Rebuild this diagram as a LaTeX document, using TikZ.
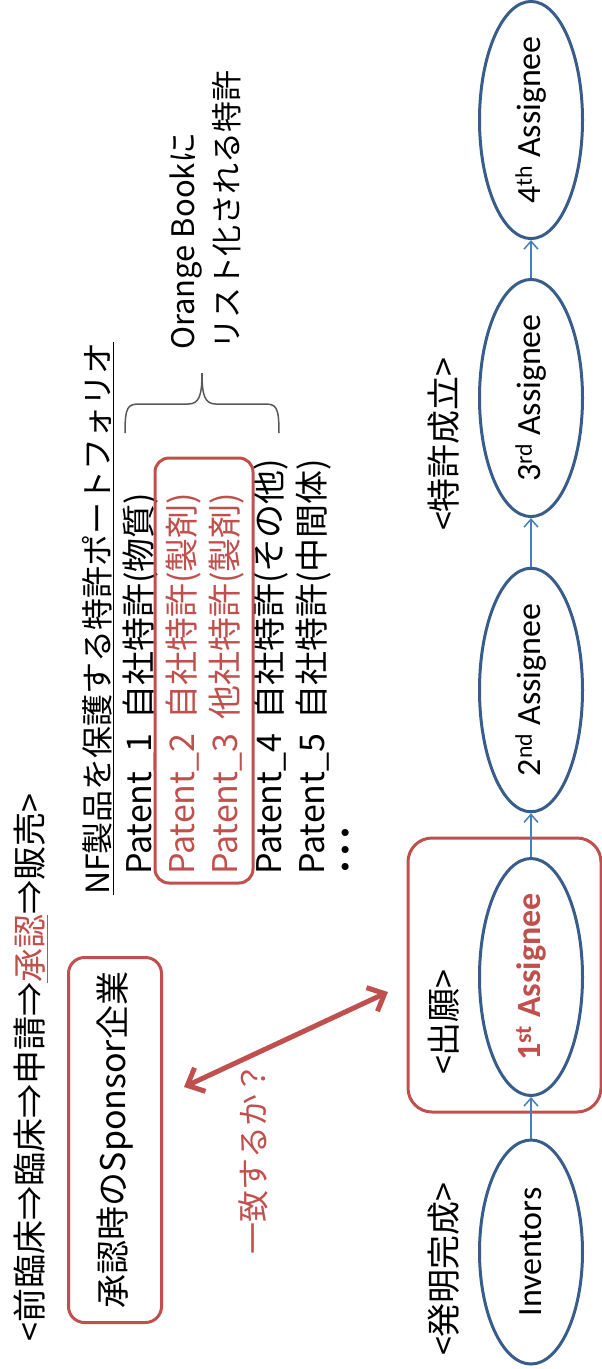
\documentclass[tikz,border=0pt]{standalone}
\usepackage{fontspec}
\setmainfont{Noto Sans CJK JP}
\newfontfamily\latinfont{Carlito}
\usetikzlibrary{arrows.meta,shapes.geometric}
\definecolor{pred}{HTML}{C0504D}
\definecolor{pblue}{HTML}{385D8A}
\definecolor{lblue}{HTML}{4A7EBB}
\definecolor{bracegray}{HTML}{595959}
\begin{document}
\begin{tikzpicture}[x=1pt,y=-1pt,
  rtext/.style={rotate=90, inner sep=0pt, font=\fontsize{34}{40}\selectfont},
  rbox/.style={draw=pred, line width=3pt, rounded corners=#1, inner sep=0pt},
  ell/.style={ellipse, draw=pblue, line width=3pt, rotate=90, minimum width=224pt,
    minimum height=103pt, inner sep=0pt, font=\latinfont\fontsize{34}{40}\selectfont},
  conn/.style={draw=lblue, line width=1.5pt, -{Straight Barb[length=8pt,width=14pt]}},
  dbl/.style={draw=pred, line width=5pt,
    {Straight Barb[length=14pt,width=26pt]}-{Straight Barb[length=14pt,width=26pt]}},
  bracestyle/.style={draw=bracegray, line width=1.5pt}]
\useasboundingbox (0,0) rectangle (602,1369);

% title
\node[rtext, anchor=west] (title) at (31,1342)
  {<前臨床⇒臨床⇒申請⇒\textcolor{pred}{\underline{承認}}⇒販売>};

% sponsor box
\node[rbox=16pt, rotate=90, minimum width=365pt, minimum height=93pt,
  font=\fontsize{34}{40}\selectfont] (spon) at (115,1140) {承認時のSponsor企業};

% heading
\node[rtext, anchor=west, font=\fontsize{32}{40}\selectfont] (nf) at (98,895)
  {\underline{NF製品を保護する特許ポートフォリオ}};

% patent rows
\node[rtext, anchor=west] (p1) at (141,875) {\makebox[155pt][l]{Patent\_1}自社特許(物質)};
\node[rtext, anchor=west, text=pred] (p2) at (184,875) {\makebox[155pt][l]{Patent\_2}自社特許(製剤)};
\node[rtext, anchor=west, text=pred] (p3) at (227,875) {\makebox[155pt][l]{Patent\_3}他社特許(製剤)};
\node[rtext, anchor=west] (p4) at (271,875) {\makebox[155pt][l]{Patent\_4}自社特許(その他)};
\node[rtext, anchor=west] (p5) at (314,875) {\makebox[155pt][l]{Patent\_5}自社特許(中間体)};
\node[rtext, anchor=west, font=\fontsize{34}{40}\selectfont\bfseries] (dots) at (350,876) {･･･};

% red box around rows 2-3
\node[rbox=14pt, minimum width=98pt, minimum height=425pt] (obox) at (204,670.5) {};

% brace
\draw[bracestyle] (125,433) .. controls (125,406) and (128,404) .. (140,404) -- (188,404)
  .. controls (199,404) and (202,396) .. (202,373)
  .. controls (202,396) and (205,404) .. (216,404) -- (264,404)
  .. controls (276,404) and (279,406) .. (279,433);

% Orange Book label
\node[rotate=90, inner sep=0pt, anchor=north west, align=left,
  font=\fontsize{31}{44}\selectfont] (ob) at (170,350)
  {Orange Bookに\\リスト化される特許};

% question
\node[rtext, text=pred, font=\fontsize{32}{40}\selectfont] (q) at (253,1158) {一致するか？};

% double arrow
\coordinate (da1) at (184,1087);
\coordinate (da2) at (388,992);
\draw[dbl] (da1) -- (da2);

% group box
\node[rbox=24pt, minimum width=193pt, minimum height=274pt] (grp) at (504.5,975) {};

% stage labels
\node[rtext] (s1) at (444,1269) {<発明完成>};
\node[rtext] (s2) at (444,1022) {<出願>};
\node[rtext] (s3) at (444,444) {<特許成立>};

% ellipses
\node[ell] (inv) at (531,1252) {Inventors};
\node[ell, text=pred, font=\latinfont\fontsize{34}{40}\selectfont\bfseries] (a1) at (531,977) {1\textsuperscript{st} Assignee};
\node[ell] (a2) at (531,690) {2\textsuperscript{nd} Assignee};
\node[ell] (a3) at (531,398) {3\textsuperscript{rd} Assignee};
\node[ell] (a4) at (531,120) {4\textsuperscript{th} Assignee};

\draw[conn] (inv.east) -- (a1.west);
\draw[conn] (a1.east) -- (a2.west);
\draw[conn] (a2.east) -- (a3.west);
\draw[conn] (a3.east) -- (a4.west);
\end{tikzpicture}
\end{document}
